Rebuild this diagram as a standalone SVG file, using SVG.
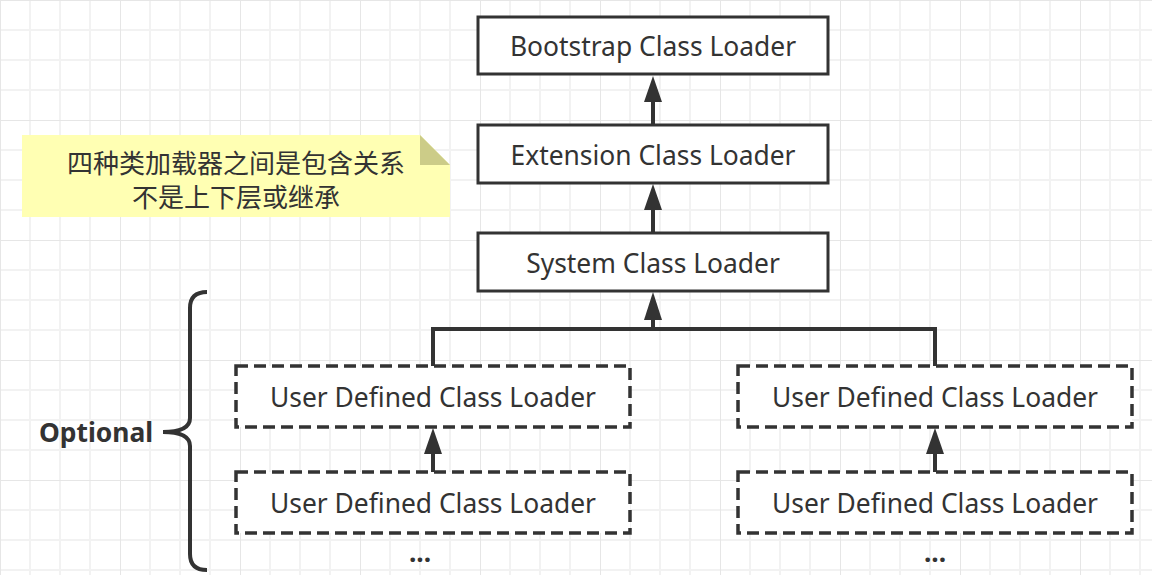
<svg xmlns="http://www.w3.org/2000/svg" width="1152" height="575" viewBox="0 0 1152 575">
<defs>
<pattern id="grid" width="120" height="120" patternUnits="userSpaceOnUse">
<path d="M30 0V120M60 0V120M90 0V120M0 30H120M0 60H120M0 90H120" stroke="#f2f2f2" stroke-width="2" fill="none"/>
<path d="M0 0V120M0 0H120" stroke="#e6e6e6" stroke-width="2" fill="none"/>
</pattern>
<style>
.box{fill:#fff;stroke:#333;stroke-width:3}
.dbox{fill:#fff;stroke:#333;stroke-width:3.5;stroke-dasharray:12 6}
.t{font-family:"Noto Sans","Open Sans",sans-serif;font-size:26.4px;fill:#333;text-anchor:middle;dominant-baseline:central}
.cn{font-family:"Noto Sans CJK SC",sans-serif;font-size:26px;fill:#333;text-anchor:middle;dominant-baseline:central}
.conn{fill:none;stroke:#333;stroke-width:4}
.head{fill:#333}
</style>
</defs>
<rect width="1152" height="575" fill="#fff"/>
<rect width="1152" height="575" fill="url(#grid)"/>

<g id="connectors">
<path class="conn" d="M653 125V90"/>
<path class="head" d="M644 102L653 76L662 102Z"/>
<path class="conn" d="M653 233V198"/>
<path class="head" d="M644 210L653 184L662 210Z"/>
<path class="conn" d="M433 366V329H935V366M653 329V306"/>
<path class="head" d="M644 320L653 292L662 320Z"/>
<path class="conn" d="M433 472V440"/>
<path class="head" d="M424 454L433 428L442 454Z"/>
<path class="conn" d="M935 472V440"/>
<path class="head" d="M926 454L935 428L944 454Z"/>
</g>

<g id="bootstrap">
<rect class="box" x="478" y="17" width="350" height="57"/>
<text class="t" x="653" y="46">Bootstrap Class Loader</text>
</g>
<g id="extension">
<rect class="box" x="478" y="125" width="350" height="58"/>
<text class="t" x="653" y="155">Extension Class Loader</text>
</g>
<g id="system">
<rect class="box" x="478" y="233" width="350" height="58"/>
<text class="t" x="653" y="263">System Class Loader</text>
</g>

<g id="user1">
<rect class="dbox" x="236" y="366" width="394" height="61"/>
<text class="t" x="433" y="397">User Defined Class Loader</text>
</g>
<g id="user2">
<rect class="dbox" x="738" y="366" width="394" height="61"/>
<text class="t" x="935" y="397">User Defined Class Loader</text>
</g>
<g id="user3">
<rect class="dbox" x="236" y="472" width="394" height="61"/>
<text class="t" x="433" y="503">User Defined Class Loader</text>
</g>
<g id="user4">
<rect class="dbox" x="738" y="472" width="394" height="61"/>
<text class="t" x="935" y="503">User Defined Class Loader</text>
</g>

<g id="dots1"><text class="t" x="420" y="552" style="font-weight:bold">...</text></g>
<g id="dots2"><text class="t" x="935" y="552" style="font-weight:bold">...</text></g>

<g id="note">
<path d="M22 135H420L450 165V217H22Z" fill="#ffffb3"/>
<path d="M420 135L450 165H420Z" fill="#cccc88"/>
<text class="cn"><tspan x="236" y="161">四种类加载器之间是包含关系</tspan><tspan x="236" y="195">不是上下层或继承</tspan></text>
</g>

<g id="optional">
<path d="M207 292Q190 292 190 308V418Q190 432 163 432Q190 432 190 446V554Q190 570 207 570" fill="none" stroke="#333" stroke-width="4"/>
<text class="t" x="96" y="432" style="font-weight:bold">Optional</text>
</g>
</svg>
